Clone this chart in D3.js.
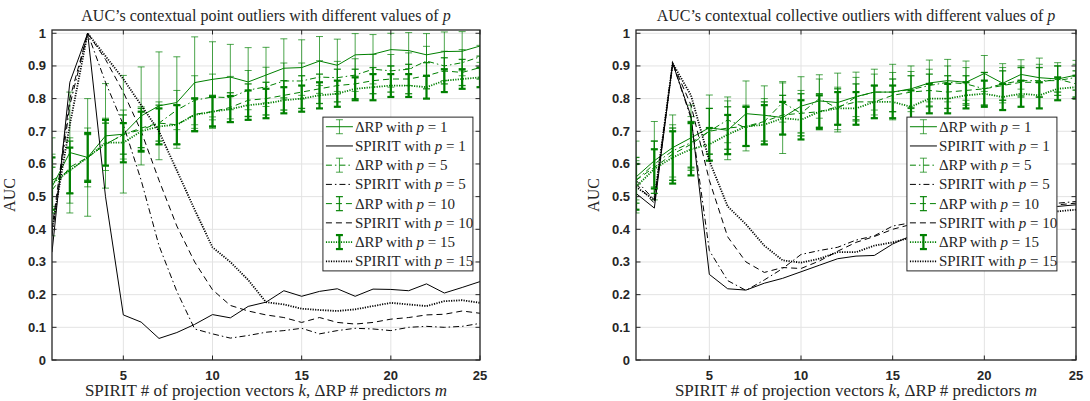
<!DOCTYPE html>
<html>
<head>
<meta charset="utf-8">
<script src="https://cdn.jsdelivr.net/npm/d3@7"></script>
<style>
  body { margin: 0; background: #fff; }
  text { fill: #262626; }
</style>
</head>
<body>
<svg id="chart" width="1090" height="401"></svg>
<script>
// x values (SPIRIT k / deltaRP m) and ticks
var ks = [1, 2, 3, 4, 5, 6, 7, 8, 9, 10, 11, 12, 13, 14, 15, 16, 17, 18, 19, 20, 21, 22, 23, 24, 25];
var xTicks = [5, 10, 15, 20, 25];
var yTicks = [0, 0.1, 0.2, 0.3, 0.4, 0.5, 0.6, 0.7, 0.8, 0.9, 1];
var pValues = [1, 5, 10, 15];

// left panel: contextual point outliers
var pointRp1 = [0.53, 0.635, 0.62, 0.686, 0.691, 0.747, 0.778, 0.788, 0.849, 0.859, 0.866, 0.851, 0.872, 0.893, 0.895, 0.915, 0.902, 0.934, 0.936, 0.95, 0.947, 0.934, 0.944, 0.945, 0.961];
var pointRp1Err = [0.15, 0.185, 0.18, 0.16, 0.18, 0.15, 0.165, 0.14, 0.14, 0.115, 0.10, 0.105, 0.085, 0.09, 0.085, 0.075, 0.08, 0.065, 0.06, 0.05, 0.055, 0.065, 0.06, 0.06, 0.05];
var pointRp5 = [0.55, 0.58, 0.62, 0.66, 0.69, 0.705, 0.725, 0.765, 0.795, 0.805, 0.803, 0.826, 0.836, 0.854, 0.854, 0.866, 0.864, 0.872, 0.89, 0.885, 0.89, 0.915, 0.9, 0.91, 0.928];
var pointRp5Err = [0.08, 0.1, 0.09, 0.08, 0.075, 0.07, 0.065, 0.06, 0.075, 0.07, 0.065, 0.06, 0.06, 0.055, 0.055, 0.05, 0.05, 0.05, 0.045, 0.05, 0.05, 0.045, 0.045, 0.04, 0.035];
var pointRp10 = [0.52, 0.59, 0.62, 0.66, 0.69, 0.71, 0.725, 0.72, 0.752, 0.76, 0.773, 0.795, 0.80, 0.81, 0.82, 0.83, 0.84, 0.845, 0.855, 0.86, 0.86, 0.87, 0.885, 0.88, 0.895];
var pointRp10Err = [0.07, 0.08, 0.07, 0.065, 0.06, 0.06, 0.055, 0.06, 0.05, 0.05, 0.045, 0.05, 0.05, 0.045, 0.05, 0.045, 0.05, 0.045, 0.04, 0.04, 0.045, 0.04, 0.04, 0.04, 0.035];
var pointRp15 = [0.54, 0.58, 0.62, 0.665, 0.665, 0.70, 0.715, 0.72, 0.75, 0.76, 0.768, 0.78, 0.785, 0.795, 0.80, 0.81, 0.815, 0.83, 0.835, 0.84, 0.84, 0.835, 0.855, 0.86, 0.865];
var pointRp15Err = [0.08, 0.07, 0.075, 0.07, 0.06, 0.06, 0.055, 0.06, 0.05, 0.045, 0.04, 0.045, 0.045, 0.04, 0.04, 0.04, 0.04, 0.035, 0.04, 0.035, 0.035, 0.035, 0.035, 0.03, 0.03];
var pointSp1 = [0.33, 0.85, 1.0, 0.50, 0.138, 0.116, 0.066, 0.084, 0.109, 0.139, 0.129, 0.164, 0.177, 0.212, 0.195, 0.21, 0.218, 0.195, 0.217, 0.216, 0.212, 0.233, 0.205, 0.222, 0.24];
var pointSp5 = [0.38, 0.78, 1.0, 0.85, 0.72, 0.55, 0.35, 0.21, 0.095, 0.08, 0.067, 0.075, 0.085, 0.09, 0.097, 0.08, 0.09, 0.097, 0.095, 0.09, 0.1, 0.103, 0.1, 0.103, 0.112];
var pointSp10 = [0.40, 0.80, 1.0, 0.92, 0.82, 0.70, 0.55, 0.41, 0.30, 0.215, 0.167, 0.15, 0.138, 0.13, 0.115, 0.13, 0.115, 0.11, 0.115, 0.125, 0.13, 0.138, 0.14, 0.15, 0.143];
var pointSp15 = [0.40, 0.72, 1.0, 0.93, 0.86, 0.78, 0.70, 0.58, 0.46, 0.345, 0.30, 0.245, 0.177, 0.17, 0.157, 0.153, 0.15, 0.155, 0.165, 0.175, 0.17, 0.165, 0.18, 0.183, 0.175];

// right panel: contextual collective outliers
var collRp1 = [0.56, 0.61, 0.65, 0.68, 0.711, 0.703, 0.754, 0.749, 0.742, 0.777, 0.793, 0.788, 0.806, 0.82, 0.82, 0.83, 0.848, 0.855, 0.85, 0.877, 0.847, 0.874, 0.864, 0.86, 0.872];
var collRp1Err = [0.11, 0.12, 0.1, 0.1, 0.1, 0.09, 0.1, 0.09, 0.11, 0.09, 0.08, 0.09, 0.075, 0.07, 0.085, 0.07, 0.07, 0.065, 0.065, 0.055, 0.06, 0.045, 0.06, 0.05, 0.045];
var collRp5 = [0.55, 0.60, 0.64, 0.665, 0.70, 0.735, 0.71, 0.73, 0.788, 0.755, 0.80, 0.77, 0.805, 0.82, 0.82, 0.828, 0.84, 0.85, 0.845, 0.83, 0.845, 0.855, 0.855, 0.855, 0.865];
var collRp5Err = [0.06, 0.07, 0.08, 0.08, 0.07, 0.07, 0.07, 0.07, 0.06, 0.07, 0.06, 0.065, 0.06, 0.055, 0.06, 0.055, 0.05, 0.05, 0.05, 0.05, 0.05, 0.045, 0.05, 0.045, 0.04];
var collRp10 = [0.55, 0.59, 0.63, 0.66, 0.70, 0.71, 0.715, 0.73, 0.75, 0.755, 0.76, 0.775, 0.79, 0.79, 0.81, 0.82, 0.825, 0.82, 0.825, 0.83, 0.84, 0.85, 0.85, 0.86, 0.845];
var collRp10Err = [0.07, 0.08, 0.08, 0.07, 0.07, 0.065, 0.06, 0.06, 0.06, 0.06, 0.055, 0.055, 0.055, 0.05, 0.05, 0.05, 0.05, 0.05, 0.045, 0.05, 0.045, 0.045, 0.045, 0.04, 0.04];
var collRp15 = [0.53, 0.585, 0.62, 0.645, 0.66, 0.69, 0.715, 0.72, 0.74, 0.735, 0.76, 0.77, 0.77, 0.79, 0.79, 0.775, 0.80, 0.80, 0.81, 0.815, 0.805, 0.815, 0.81, 0.83, 0.835];
var collRp15Err = [0.07, 0.06, 0.08, 0.08, 0.05, 0.06, 0.06, 0.06, 0.05, 0.06, 0.05, 0.05, 0.05, 0.05, 0.05, 0.05, 0.045, 0.045, 0.04, 0.04, 0.04, 0.04, 0.04, 0.035, 0.035];
var collSp1 = [0.51, 0.465, 0.908, 0.746, 0.262, 0.218, 0.214, 0.235, 0.25, 0.27, 0.29, 0.31, 0.318, 0.32, 0.355, 0.38, 0.40, 0.415, 0.43, 0.44, 0.45, 0.455, 0.465, 0.47, 0.475];
var collSp5 = [0.55, 0.49, 0.908, 0.74, 0.335, 0.243, 0.213, 0.245, 0.28, 0.323, 0.335, 0.345, 0.367, 0.38, 0.41, 0.42, 0.43, 0.44, 0.45, 0.455, 0.46, 0.47, 0.475, 0.48, 0.485];
var collSp10 = [0.54, 0.48, 0.908, 0.78, 0.55, 0.377, 0.30, 0.268, 0.283, 0.28, 0.303, 0.333, 0.36, 0.378, 0.40, 0.415, 0.425, 0.435, 0.445, 0.455, 0.46, 0.465, 0.47, 0.475, 0.48];
var collSp15 = [0.53, 0.49, 0.908, 0.81, 0.61, 0.47, 0.415, 0.35, 0.305, 0.298, 0.31, 0.33, 0.33, 0.35, 0.36, 0.375, 0.39, 0.40, 0.41, 0.42, 0.43, 0.44, 0.45, 0.455, 0.46];

// line styles per p (index in pValues)
var dashes = [null, "6,3,1.5,3", "6,4", "1.2,1.3"];
var lineWidths = [1, 1, 1, 1.8];
var barWidths = [1, 1, 1.3, 2.2];
var barOpacity = [0.7, 0.7, 0.9, 1];
var green = "#008000";
var frameColor = "#262626";
var serif = "'Liberation Serif', 'Times New Roman', serif";
var sans = "'Liberation Sans', Arial, sans-serif";

var svg = d3.select("#chart");

function panel(opt) {
  var x = d3.scaleLinear().domain([1, 25]).range([opt.left, opt.right]);
  var y = d3.scaleLinear().domain([0, 1.01]).range([opt.bottom, opt.top]);
  var g = svg.append("g");
  var clipId = "clip" + opt.id;

  g.append("clipPath").attr("id", clipId)
    .append("rect")
    .attr("x", opt.left).attr("y", opt.top)
    .attr("width", opt.right - opt.left).attr("height", opt.bottom - opt.top);

  //grid
  g.append("g").selectAll("line").data(xTicks).enter().append("line")
    .attr("x1", function(d) { return x(d); }).attr("x2", function(d) { return x(d); })
    .attr("y1", opt.top).attr("y2", opt.bottom)
    .attr("stroke", "#e3e3e3").attr("stroke-width", 1);
  g.append("g").selectAll("line").data(yTicks).enter().append("line")
    .attr("x1", opt.left).attr("x2", opt.right)
    .attr("y1", function(d) { return y(d); }).attr("y2", function(d) { return y(d); })
    .attr("stroke", "#e3e3e3").attr("stroke-width", 1);

  var plot = g.append("g").attr("clip-path", "url(#" + clipId + ")");
  var line = d3.line().x(function(d, i) { return x(ks[i]); }).y(function(d) { return y(d); });

  for (var j = 0; j < pValues.length; j++) {
    var vals = opt.rp[j], errs = opt.err[j];
    //error bars
    var bars = plot.append("g")
      .attr("stroke", green).attr("stroke-width", barWidths[j]).attr("stroke-opacity", barOpacity[j]);
    for (var i = 0; i < ks.length; i++) {
      var cx = x(ks[i]), lo = y(vals[i] - errs[i]), hi = y(vals[i] + errs[i]);
      bars.append("line").attr("x1", cx).attr("x2", cx).attr("y1", lo).attr("y2", hi);
      bars.append("line").attr("x1", cx - 3.5).attr("x2", cx + 3.5).attr("y1", lo).attr("y2", lo);
      bars.append("line").attr("x1", cx - 3.5).attr("x2", cx + 3.5).attr("y1", hi).attr("y2", hi);
    }
    //deltaRP line
    plot.append("path").datum(vals)
      .attr("d", line)
      .attr("fill", "none")
      .attr("stroke", green)
      .attr("stroke-width", lineWidths[j])
      .attr("stroke-dasharray", dashes[j]);
    //SPIRIT line
    plot.append("path").datum(opt.sp[j])
      .attr("d", line)
      .attr("fill", "none")
      .attr("stroke", "#000")
      .attr("stroke-width", lineWidths[j])
      .attr("stroke-dasharray", dashes[j]);
  }

  //frame + inward ticks
  var tl = 4.5;
  var ax = g.append("g").attr("stroke", frameColor).attr("stroke-width", 1);
  xTicks.forEach(function(t) {
    ax.append("line").attr("x1", x(t)).attr("x2", x(t)).attr("y1", opt.bottom).attr("y2", opt.bottom - tl);
    ax.append("line").attr("x1", x(t)).attr("x2", x(t)).attr("y1", opt.top).attr("y2", opt.top + tl);
  });
  yTicks.forEach(function(t) {
    ax.append("line").attr("x1", opt.left).attr("x2", opt.left + tl).attr("y1", y(t)).attr("y2", y(t));
    ax.append("line").attr("x1", opt.right).attr("x2", opt.right - tl).attr("y1", y(t)).attr("y2", y(t));
  });
  g.append("rect")
    .attr("x", opt.left).attr("y", opt.top)
    .attr("width", opt.right - opt.left).attr("height", opt.bottom - opt.top)
    .attr("fill", "none").attr("stroke", frameColor).attr("stroke-width", 1.3);

  //tick labels
  g.append("g").selectAll("text").data(xTicks).enter().append("text")
    .attr("x", function(d) { return x(d); })
    .attr("y", opt.bottom + 20)
    .attr("text-anchor", "middle")
    .style("font-family", sans).style("font-weight", "bold").style("font-size", "13px")
    .text(function(d) { return d; });
  g.append("g").selectAll("text").data(yTicks).enter().append("text")
    .attr("x", opt.left - 6)
    .attr("y", function(d) { return y(d) + 4.5; })
    .attr("text-anchor", "end")
    .style("font-family", sans).style("font-weight", "bold").style("font-size", "13px")
    .text(function(d) { return d; });

  //title
  var cx = (opt.left + opt.right) / 2;
  var title = g.append("text").attr("x", cx).attr("y", 21)
    .attr("text-anchor", "middle")
    .style("font-family", serif).style("font-size", "16px");
  title.append("tspan").text(opt.title);
  title.append("tspan").style("font-style", "italic").text("p");

  //x label
  var xl = g.append("text").attr("x", cx).attr("y", 396)
    .attr("text-anchor", "middle")
    .style("font-family", serif).style("font-size", "17px");
  xl.append("tspan").text("SPIRIT # of projection vectors ");
  xl.append("tspan").style("font-style", "italic").text("k");
  xl.append("tspan").text(", \u0394RP # predictors ");
  xl.append("tspan").style("font-style", "italic").text("m");

  //y label
  g.append("text")
    .attr("transform", "translate(" + (opt.left - 37) + "," + ((opt.top + opt.bottom) / 2) + ") rotate(-90)")
    .attr("text-anchor", "middle")
    .style("font-family", serif).style("font-size", "16px")
    .text("AUC");

  //legend
  var lh = opt.bottom - opt.top;
  var lx = opt.left + 428 * 0.633, ly = opt.top + lh * 0.264;
  var lgW = 150, lgH = lh * 0.466;
  var leg = g.append("g");
  leg.append("rect").attr("x", lx).attr("y", ly).attr("width", lgW).attr("height", lgH)
    .attr("fill", "#fff").attr("stroke", frameColor).attr("stroke-width", 1);
  var rowH = lgH / 8;
  for (var k = 0; k < 8; k++) {
    var pj = Math.floor(k / 2), isRp = (k % 2 === 0);
    var ry = ly + rowH * (k + 0.5);
    var col = isRp ? green : "#000";
    leg.append("line").attr("x1", lx + 3).attr("x2", lx + 30).attr("y1", ry).attr("y2", ry)
      .attr("stroke", col).attr("stroke-width", lineWidths[pj]).attr("stroke-dasharray", dashes[pj]);
    if (isRp) {
      var bx = lx + 16.5;
      var eb = leg.append("g").attr("stroke", green).attr("stroke-width", barWidths[pj]).attr("stroke-opacity", barOpacity[pj]);
      eb.append("line").attr("x1", bx).attr("x2", bx).attr("y1", ry - 7).attr("y2", ry + 7);
      eb.append("line").attr("x1", bx - 3.5).attr("x2", bx + 3.5).attr("y1", ry - 7).attr("y2", ry - 7);
      eb.append("line").attr("x1", bx - 3.5).attr("x2", bx + 3.5).attr("y1", ry + 7).attr("y2", ry + 7);
    }
    var t = leg.append("text").attr("x", lx + 32).attr("y", ry + 5)
      .style("font-family", serif).style("font-size", "15px");
    t.append("tspan").text((isRp ? "\u0394RP" : "SPIRIT") + " with ");
    t.append("tspan").style("font-style", "italic").text("p");
    t.append("tspan").text(" = " + pValues[pj]);
  }
}

panel({
  id: 1, left: 52, right: 480, top: 30, bottom: 360,
  title: "AUC\u2019s contextual point outliers with different values of ",
  rp: [pointRp1, pointRp5, pointRp10, pointRp15],
  err: [pointRp1Err, pointRp5Err, pointRp10Err, pointRp15Err],
  sp: [pointSp1, pointSp5, pointSp10, pointSp15]
});

panel({
  id: 2, left: 636, right: 1076, top: 30, bottom: 360,
  title: "AUC\u2019s contextual collective outliers with different values of ",
  rp: [collRp1, collRp5, collRp10, collRp15],
  err: [collRp1Err, collRp5Err, collRp10Err, collRp15Err],
  sp: [collSp1, collSp5, collSp10, collSp15]
});
</script>
</body>
</html>
